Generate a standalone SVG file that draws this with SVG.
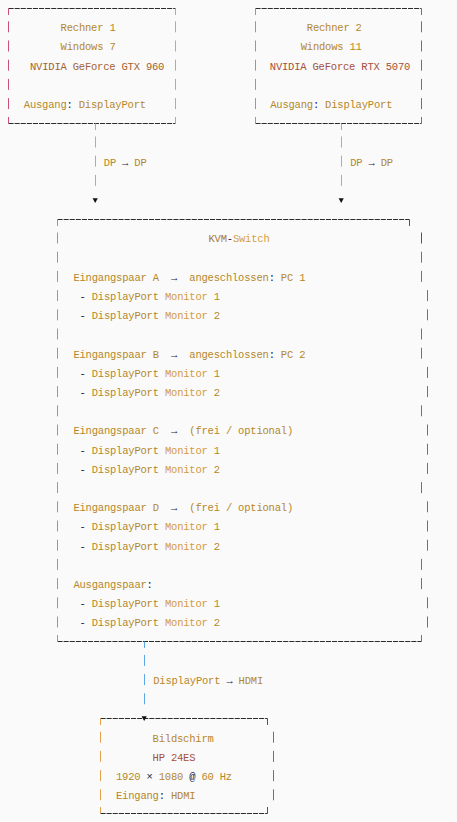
<svg xmlns="http://www.w3.org/2000/svg" width="457" height="822" viewBox="0 0 457 822">
<style>
text{font-family:"Liberation Mono","DejaVu Sans Mono",monospace;font-size:10.5px;letter-spacing:-0.2px;fill:#b5872a;white-space:pre}
.n{fill:#1c1c4a}
.br{fill:#a5622f}
.rd{fill:#a5503a}
.m{fill:#d39a3e}
.k{fill:#a8763a}
.sw{fill:#d4a040}
.bd{fill:none;stroke:#2b2b2b;stroke-width:1;stroke-dasharray:5.1 1}
.v{stroke-width:1;fill:none}
.pk{stroke:#c8507a}
.or{stroke:#e3a24e}
.bl{stroke:#5ea6e4}
.pu{stroke:#8a5aa8}
.gr{stroke:#8a6a60}
.dk{stroke:#555}
.arr{fill:#111}
</style>
<defs>
<polygon id="tri" points="-2.6,-2 2.6,-2 0,2.6"/>
</defs>
<rect width="457" height="822" fill="#fafafa"/>

<g id="rechner1">
<path class="bd" d="M8.5 8.5H175.5M8.5 123.5H175.5"/>
<path class="v pk" d="M8.5 8.5V15M8.5 21.3V32.3M8.5 40.5V51.5M8.5 59.7V70.7M8.5 78.9V89.9M8.5 98.1V109.1M8.5 117V123.5"/>
<path class="v or" d="M175.5 8.5V15M175.5 21.3V32.3M175.5 40.5V51.5M175.5 59.7V70.7M175.5 78.9V89.9M175.5 98.1V109.1M175.5 117V123.5"/>
<text x="60.6" y="31.1">Rechner 1</text>
<text x="60.6" y="50.3">Windows 7</text>
<text x="30" y="69.5" class="br">NVIDIA GeForce GTX 960</text>
<text x="23.8" y="107.9">Ausgang<tspan class="n">:</tspan> DisplayPort</text>
</g>

<g id="rechner2">
<path class="bd" d="M255.5 8.5H421.5M255.5 123.5H421.5"/>
<path class="v bl" d="M255.5 8.5V15M255.5 21.3V32.3M255.5 40.5V51.5M255.5 59.7V70.7M255.5 78.9V89.9M255.5 98.1V109.1M255.5 117V123.5"/>
<path class="v pu" d="M421.5 8.5V15M421.5 21.3V32.3M421.5 40.5V51.5M421.5 59.7V70.7M421.5 78.9V89.9M421.5 98.1V109.1M421.5 117V123.5"/>
<text x="306.8" y="31.1">Rechner 2</text>
<text x="300.7" y="50.3">Windows 11</text>
<text x="269.8" y="69.5" class="rd">NVIDIA GeForce RTX 5070</text>
<text x="270.2" y="107.9">Ausgang<tspan class="n">:</tspan> DisplayPort</text>
</g>

<g id="kvm-switch">
<path class="bd" d="M57.5 219.5H409.5M57.5 641.5H421.5"/>
<path class="v bl" d="M57.5 219.5V226M57.5 232.5V243.5M57.5 251.7V262.7M57.5 270.9V281.9M57.5 290.1V301.1M57.5 309.3V320.3M57.5 328.5V339.5M57.5 347.7V358.7M57.5 366.9V377.9M57.5 386.1V397.1M57.5 405.3V416.3M57.5 424.5V435.5M57.5 443.7V454.7M57.5 462.9V473.9M57.5 482.1V493.1M57.5 501.3V512.3M57.5 520.5V531.5M57.5 539.7V550.7M57.5 558.9V569.9M57.5 578.1V589.1M57.5 597.3V608.3M57.5 616.5V627.5M57.5 635V641.5"/>
<path class="v dk" d="M409.5 219.5V226M421.5 232.5V243.5"/>
<path class="v gr" d="M421.5 251.7V262.7M421.5 270.9V281.9M427.5 290.1V301.1M427.5 309.3V320.3M421.5 328.5V339.5M421.5 347.7V358.7M427.5 366.9V377.9M427.5 386.1V397.1M421.5 405.3V416.3M427.5 424.5V435.5M427.5 443.7V454.7M427.5 462.9V473.9M421.5 482.1V493.1M427.5 501.3V512.3M427.5 520.5V531.5M427.5 539.7V550.7M421.5 558.9V569.9M421.5 578.1V589.1M427.5 597.3V608.3M427.5 616.5V627.5M421.5 635V641.5"/>
<text x="208.5" y="242.3"><tspan class="k">KVM</tspan><tspan class="n">-</tspan><tspan class="sw">Switch</tspan></text>

<text x="73.4" y="280.7">Eingangspaar A</text><text x="171" y="280.7" class="n">→</text><text x="189.3" y="280.7">angeschlossen<tspan class="n">:</tspan> PC 1</text>
<text x="79.5" y="299.9"><tspan class="n">-</tspan> DisplayPort <tspan class="m">Monitor</tspan> 1</text>
<text x="79.5" y="319.1"><tspan class="n">-</tspan> DisplayPort <tspan class="m">Monitor</tspan> 2</text>

<text x="73.4" y="357.5">Eingangspaar B</text><text x="171" y="357.5" class="n">→</text><text x="189.3" y="357.5">angeschlossen<tspan class="n">:</tspan> PC 2</text>
<text x="79.5" y="376.7"><tspan class="n">-</tspan> DisplayPort <tspan class="m">Monitor</tspan> 1</text>
<text x="79.5" y="395.9"><tspan class="n">-</tspan> DisplayPort <tspan class="m">Monitor</tspan> 2</text>

<text x="73.4" y="434.3">Eingangspaar C</text><text x="171" y="434.3" class="n">→</text><text x="189.3" y="434.3">(frei / optional)</text>
<text x="79.5" y="453.5"><tspan class="n">-</tspan> DisplayPort <tspan class="m">Monitor</tspan> 1</text>
<text x="79.5" y="472.7"><tspan class="n">-</tspan> DisplayPort <tspan class="m">Monitor</tspan> 2</text>

<text x="73.4" y="511.1">Eingangspaar D</text><text x="171" y="511.1" class="n">→</text><text x="189.3" y="511.1">(frei / optional)</text>
<text x="79.5" y="530.3"><tspan class="n">-</tspan> DisplayPort <tspan class="m">Monitor</tspan> 1</text>
<text x="79.5" y="549.5"><tspan class="n">-</tspan> DisplayPort <tspan class="m">Monitor</tspan> 2</text>

<text x="73.4" y="587.9">Ausgangspaar<tspan class="n">:</tspan></text>
<text x="79.5" y="607.1"><tspan class="n">-</tspan> DisplayPort <tspan class="m">Monitor</tspan> 1</text>
<text x="79.5" y="626.3"><tspan class="n">-</tspan> DisplayPort <tspan class="m">Monitor</tspan> 2</text>
</g>

<g id="bildschirm">
<path class="bd" d="M100.5 718.5H267.5M100.5 813.5H267.5"/>
<path class="v or" d="M100.5 718.5V725M100.5 731.7V742.7M100.5 750.9V761.9M100.5 770.1V781.1M100.5 789.3V800.3M100.5 807V813.5"/>
<path class="v dk" d="M267.5 718.5V725M267.5 807V813.5"/>
<path class="v gr" d="M273.5 731.7V742.7M273.5 750.9V761.9M273.5 770.1V781.1M273.5 789.3V800.3"/>
<text x="152.6" y="741.5">Bildschirm</text>
<text x="152.6" y="760.7" class="rd">HP 24ES</text>
<text x="116" y="779.9">1920 <tspan class="n">×</tspan> 1080 <tspan class="n">@</tspan> 60 Hz</text>
<text x="116" y="799.1">Eingang<tspan class="n">:</tspan> HDMI</text>
</g>

<g id="connectors">
<path class="v or" d="M95.5 123.5V130M95.5 136.5V147.5M95.5 155.7V166.7M95.5 174.9V185.9"/>
<use href="#tri" x="95.2" y="200.3" class="arr"/>
<text x="103.8" y="165.5">DP <tspan class="n">→</tspan> DP</text>
<path class="v or" d="M341.5 123.5V130M341.5 136.5V147.5M341.5 155.7V166.7M341.5 174.9V185.9"/>
<use href="#tri" x="341.2" y="200.3" class="arr"/>
<text x="350.2" y="165.5">DP <tspan class="n">→</tspan> DP</text>
<path class="v bl" d="M144.5 641.5V648M144.5 654.9V665.9M144.5 674.1V685.1M144.5 693.3V704.3"/>
<use href="#tri" x="144.2" y="718.3" class="arr"/>
<text x="153.2" y="683.9">DisplayPort <tspan class="n">→</tspan> HDMI</text>
</g>
</svg>
